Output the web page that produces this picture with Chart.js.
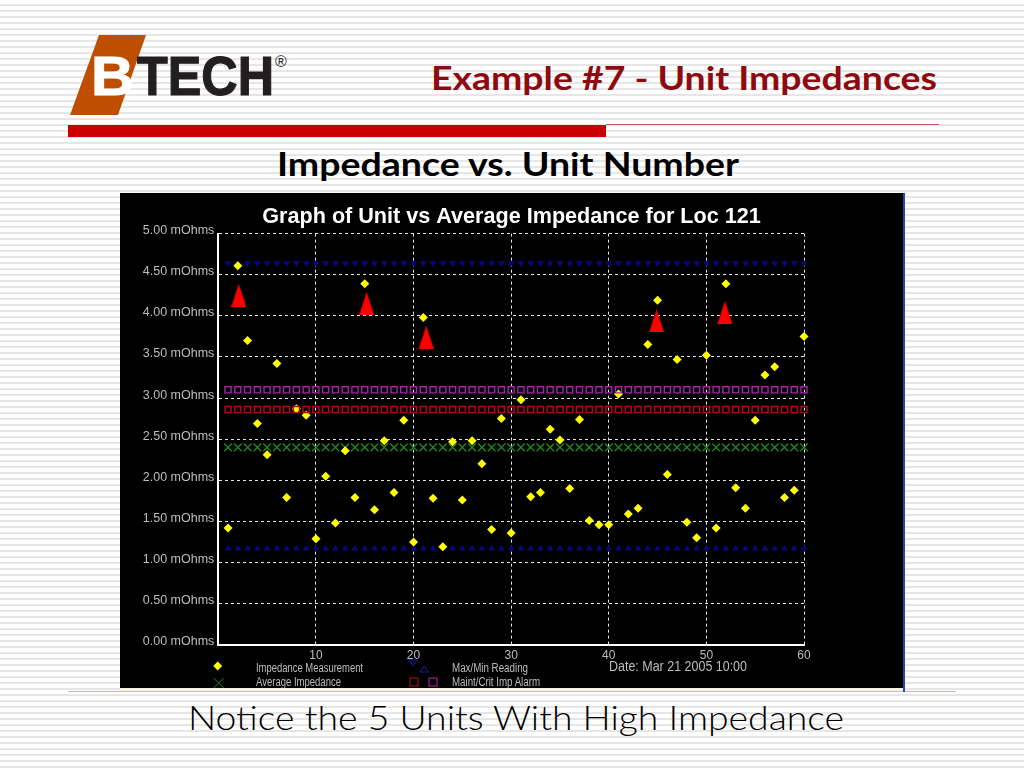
<!DOCTYPE html>
<html>
<head>
<meta charset="utf-8">
<title>Example #7 - Unit Impedances</title>
<script src="https://cdn.jsdelivr.net/npm/chart.js@4/dist/chart.umd.min.js"></script>
<style>
  html, body { margin: 0; padding: 0; }
  body {
    width: 1024px; height: 768px; overflow: hidden; position: relative;
    background: repeating-linear-gradient(to bottom, #ffffff 0 4px, #e6e6e6 4px 6px);
  }
  #panel { position: absolute; left: 120px; top: 193px; width: 783px; height: 495px; background: #000; }
  #chart { position: absolute; left: 0; top: 0; }
  #slide { position: absolute; left: 0; top: 0; }
</style>
</head>
<body>
<svg id="slide" width="1024" height="768" xmlns="http://www.w3.org/2000/svg">
  <rect x="68" y="691" width="888" height="1" fill="#d8b4b0"/>
  <rect x="120" y="688" width="783" height="3" fill="#f5f3e6"/>
  <rect x="903" y="193" width="2" height="499" fill="#1c4aa6"/>

  <polygon points="99,35 146,35 118,115 70,115" fill="#bf4f00"/>
  <text x="91" y="95" font-family="Liberation Sans" font-weight="bold" font-size="55" fill="#fff" stroke="#fff" stroke-width="1" textLength="43" lengthAdjust="spacingAndGlyphs">B</text>
  <text x="137" y="95" font-family="Liberation Sans" font-weight="bold" font-size="55" fill="#231f20" stroke="#231f20" stroke-width="1.2" textLength="137" lengthAdjust="spacingAndGlyphs">TECH</text>
  <text x="275" y="67" font-family="Liberation Sans" font-size="16" fill="#231f20">®</text>

  <text x="431" y="90" font-family="Lato" font-weight="bold" font-size="32" fill="#8f0a10" textLength="506" lengthAdjust="spacingAndGlyphs">Example #7 - Unit Impedances</text>
  <rect x="68" y="125" width="538" height="12" fill="#cc0000"/>
  <rect x="606" y="124" width="333" height="1" fill="#c8565a"/>
  <text x="277" y="176" font-family="Lato" font-weight="bold" font-size="33" fill="#000" textLength="462" lengthAdjust="spacingAndGlyphs">Impedance vs. Unit Number</text>
  <text x="188" y="730" font-family="Lato" font-weight="300" font-size="33" fill="#000" textLength="656" lengthAdjust="spacingAndGlyphs">Notice the 5 Units With High Impedance</text>
</svg>

<div id="panel"><canvas id="chart" width="783" height="495"></canvas></div>

<svg id="legend" style="position:absolute;left:120px;top:193px" width="783" height="495" xmlns="http://www.w3.org/2000/svg">
  <g transform="translate(-120,-193)" font-family="Liberation Sans" fill="#bdbdbd">
    <polygon points="217.7,661.5 222.2,666 217.7,670.5 213.2,666" fill="#ffff00"/>
    <path d="M213.7 678 L223.7 688 M223.7 678 L213.7 688" stroke="#1f8a1f" fill="none"/>
    <polygon points="409,660 417,660 413,666" fill="none" stroke="#1a1ab0"/>
    <polygon points="420,672 428.5,672 424.2,666" fill="none" stroke="#1a1ab0"/>
    <rect x="410" y="678" width="8" height="8" fill="none" stroke="#b01020"/>
    <rect x="429" y="678" width="8" height="8" fill="none" stroke="#c020b0"/>
    <text x="256" y="672" font-size="12" textLength="107" lengthAdjust="spacingAndGlyphs">Impedance Measurement</text>
    <text x="256" y="686" font-size="12" textLength="85" lengthAdjust="spacingAndGlyphs">Average Impedance</text>
    <text x="452" y="672" font-size="12" textLength="76" lengthAdjust="spacingAndGlyphs">Max/Min Reading</text>
    <text x="452" y="686" font-size="12" textLength="88" lengthAdjust="spacingAndGlyphs">Maint/Crit Imp Alarm</text>
    <text x="609" y="671" font-size="14" textLength="138" lengthAdjust="spacingAndGlyphs">Date: Mar 21 2005  10:00</text>
  </g>
</svg>

<script>
// values
const units = [
  1, 2, 3, 4, 5, 6, 7, 8, 9, 10, 11, 12, 13, 14, 15, 16, 17, 18, 19, 20,
  21, 22, 23, 24, 25, 26, 27, 28, 29, 30, 31, 32, 33, 34, 35, 36, 37, 38, 39, 40,
  41, 42, 43, 44, 45, 46, 47, 48, 49, 50, 51, 52, 53, 54, 55, 56, 57, 58, 59, 60
];
const impedance = [
  1.42, 4.61, 3.70, 2.69, 2.31, 3.42, 1.79, 2.87, 2.79, 1.29,
  2.05, 1.48, 2.36, 1.79, 4.39, 1.64, 2.48, 1.85, 2.73, 1.25,
  3.98, 1.78, 1.19, 2.47, 1.76, 2.48, 2.20, 1.40, 2.75, 1.36,
  2.98, 1.80, 1.85, 2.62, 2.49, 1.90, 2.74, 1.51, 1.46, 1.46,
  3.05, 1.59, 1.66, 3.65, 4.19, 2.07, 3.47, 1.49, 1.30, 3.52,
  1.42, 4.39, 1.91, 1.66, 2.73, 3.28, 3.38, 1.79, 1.88, 3.75
];
const maxReading = [
  4.64, 4.64, 4.64, 4.64, 4.64, 4.64, 4.64, 4.64, 4.64, 4.64,
  4.64, 4.64, 4.64, 4.64, 4.64, 4.64, 4.64, 4.64, 4.64, 4.64,
  4.64, 4.64, 4.64, 4.64, 4.64, 4.64, 4.64, 4.64, 4.64, 4.64,
  4.64, 4.64, 4.64, 4.64, 4.64, 4.64, 4.64, 4.64, 4.64, 4.64,
  4.64, 4.64, 4.64, 4.64, 4.64, 4.64, 4.64, 4.64, 4.64, 4.64,
  4.64, 4.64, 4.64, 4.64, 4.64, 4.64, 4.64, 4.64, 4.64, 4.64
];
const minReading = [
  1.17, 1.17, 1.17, 1.17, 1.17, 1.17, 1.17, 1.17, 1.17, 1.17,
  1.17, 1.17, 1.17, 1.17, 1.17, 1.17, 1.17, 1.17, 1.17, 1.17,
  1.17, 1.17, 1.17, 1.17, 1.17, 1.17, 1.17, 1.17, 1.17, 1.17,
  1.17, 1.17, 1.17, 1.17, 1.17, 1.17, 1.17, 1.17, 1.17, 1.17,
  1.17, 1.17, 1.17, 1.17, 1.17, 1.17, 1.17, 1.17, 1.17, 1.17,
  1.17, 1.17, 1.17, 1.17, 1.17, 1.17, 1.17, 1.17, 1.17, 1.17
];
const critAlarm = [
  3.10, 3.10, 3.10, 3.10, 3.10, 3.10, 3.10, 3.10, 3.10, 3.10,
  3.10, 3.10, 3.10, 3.10, 3.10, 3.10, 3.10, 3.10, 3.10, 3.10,
  3.10, 3.10, 3.10, 3.10, 3.10, 3.10, 3.10, 3.10, 3.10, 3.10,
  3.10, 3.10, 3.10, 3.10, 3.10, 3.10, 3.10, 3.10, 3.10, 3.10,
  3.10, 3.10, 3.10, 3.10, 3.10, 3.10, 3.10, 3.10, 3.10, 3.10,
  3.10, 3.10, 3.10, 3.10, 3.10, 3.10, 3.10, 3.10, 3.10, 3.10
];
const maintAlarm = [
  2.86, 2.86, 2.86, 2.86, 2.86, 2.86, 2.86, 2.86, 2.86, 2.86,
  2.86, 2.86, 2.86, 2.86, 2.86, 2.86, 2.86, 2.86, 2.86, 2.86,
  2.86, 2.86, 2.86, 2.86, 2.86, 2.86, 2.86, 2.86, 2.86, 2.86,
  2.86, 2.86, 2.86, 2.86, 2.86, 2.86, 2.86, 2.86, 2.86, 2.86,
  2.86, 2.86, 2.86, 2.86, 2.86, 2.86, 2.86, 2.86, 2.86, 2.86,
  2.86, 2.86, 2.86, 2.86, 2.86, 2.86, 2.86, 2.86, 2.86, 2.86
];
const averageImpedance = [
  2.40, 2.40, 2.40, 2.40, 2.40, 2.40, 2.40, 2.40, 2.40, 2.40,
  2.40, 2.40, 2.40, 2.40, 2.40, 2.40, 2.40, 2.40, 2.40, 2.40,
  2.40, 2.40, 2.40, 2.40, 2.40, 2.40, 2.40, 2.40, 2.40, 2.40,
  2.40, 2.40, 2.40, 2.40, 2.40, 2.40, 2.40, 2.40, 2.40, 2.40,
  2.40, 2.40, 2.40, 2.40, 2.40, 2.40, 2.40, 2.40, 2.40, 2.40,
  2.40, 2.40, 2.40, 2.40, 2.40, 2.40, 2.40, 2.40, 2.40, 2.40
];
// the red call-out arrows next to the five high units
const arrowUnits = [2.1, 15.2, 21.3, 44.9, 51.9];
const arrowValues = [4.25, 4.15, 3.74, 3.94, 4.04];

function toPoints(xs, ys) {
  return xs.map((x, i) => ({ x: x, y: ys[i] }));
}

// tall thin triangle used as the arrow marker
function makeArrow() {
  const c = document.createElement('canvas');
  c.width = 15;
  c.height = 23;
  const g = c.getContext('2d');
  g.fillStyle = '#ff0000';
  g.beginPath();
  g.moveTo(7.5, 0);
  g.lineTo(15, 23);
  g.lineTo(0, 23);
  g.closePath();
  g.fill();
  return c;
}

function series(label, xs, ys, extra) {
  return Object.assign({
    label: label,
    data: toPoints(xs, ys),
    showLine: false,
    clip: false
  }, extra);
}

const tickColor = '#bdbdbd';

new Chart(document.getElementById('chart'), {
  type: 'scatter',
  data: {
    // first dataset ends up on top
    datasets: [
      series('High Units', arrowUnits, arrowValues, { pointStyle: makeArrow(), pointRadius: 8 }),
      series('Maint Imp Alarm', units, maintAlarm, { pointStyle: 'rect', pointRadius: 4.3, borderColor: '#ae0c1c', backgroundColor: 'transparent', borderWidth: 1.4 }),
      series('Crit Imp Alarm', units, critAlarm, { pointStyle: 'rect', pointRadius: 4.3, borderColor: '#a822a8', backgroundColor: 'transparent', borderWidth: 1.4 }),
      series('Impedance Measurement', units, impedance, { pointStyle: 'rectRot', pointRadius: 4.5, borderColor: '#ffff00', backgroundColor: '#ffff00', borderWidth: 0 }),
      series('Average Impedance', units, averageImpedance, { pointStyle: 'crossRot', pointRadius: 5.5, borderColor: '#1f8f1f', borderWidth: 1.2 }),
      series('Max Reading', units, maxReading, { pointStyle: 'triangle', rotation: 180, pointRadius: 3, borderColor: '#08087e', backgroundColor: '#08087e', borderWidth: 1 }),
      series('Min Reading', units, minReading, { pointStyle: 'triangle', pointRadius: 3, borderColor: '#08087e', backgroundColor: '#08087e', borderWidth: 1 })
    ]
  },
  options: {
    responsive: false,
    animation: false,
    layout: { padding: 0 },
    plugins: {
      legend: { display: false },
      tooltip: { enabled: false },
      title: {
        display: true,
        text: 'Graph of Unit vs Average Impedance for Loc 121',
        color: '#ffffff',
        font: { family: 'Liberation Sans', size: 21.6, weight: 'bold' },
        padding: { top: 11, bottom: 3.7 }
      }
    },
    scales: {
      x: {
        type: 'linear',
        min: 0,
        max: 60,
        afterFit: s => { s.height = 43.3; },
        border: { color: '#ffffff', width: 2, dash: [3, 3] },
        grid: { color: '#e8e8e8', lineWidth: 1, drawTicks: false },
        ticks: {
          stepSize: 10,
          padding: 4,
          maxRotation: 0,
          color: tickColor,
          font: { family: 'Liberation Sans', size: 12 },
          callback: v => (v === 0 ? '' : v)
        }
      },
      y: {
        min: 0,
        max: 5,
        afterFit: s => { s.width = 98.3; },
        border: { color: '#ffffff', width: 2, dash: [3, 3] },
        grid: { color: '#e8e8e8', lineWidth: 1, drawTicks: false },
        ticks: {
          stepSize: 0.5,
          padding: 4,
          labelOffset: -3,
          color: tickColor,
          font: { family: 'Liberation Sans', size: 12.5 },
          callback: v => v.toFixed(2) + ' mOhms'
        }
      },
      // empty right-hand axis holds the black margin so the title stays centred on the panel
      margin: {
        type: 'linear',
        position: 'right',
        afterFit: s => { s.width = 99; },
        border: { display: false },
        grid: { display: false },
        ticks: { display: false }
      }
    }
  }
});
</script>
</body>
</html>
